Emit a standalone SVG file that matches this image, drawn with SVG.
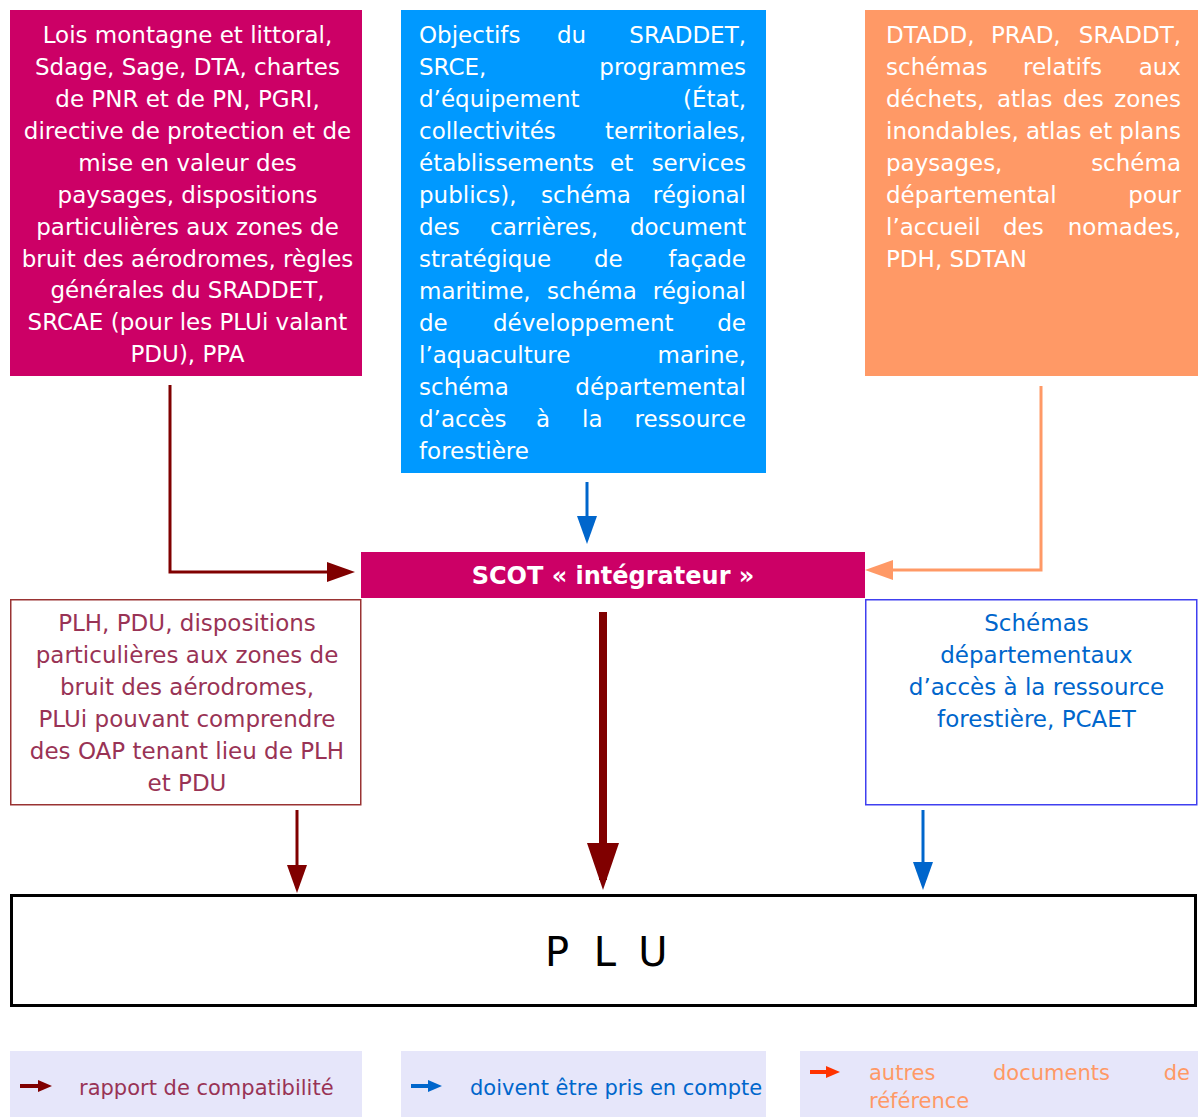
<svg xmlns="http://www.w3.org/2000/svg" width="1198" height="1117" viewBox="0 0 1198 1117">
<style>
text{font-family:"DejaVu Sans","Verdana",sans-serif;font-size:23px}
.w{fill:#ffffff}
.c{text-anchor:middle}
.e{text-anchor:end}
.mar{fill:#993355}
.blu{fill:#0066CC}
.leg{font-size:21px}
.big{font-size:40px}
.scot{font-size:24px;font-weight:bold}
.conn{fill:none;stroke-linejoin:miter}
</style>
<defs>
<marker id="mRed" markerUnits="userSpaceOnUse" markerWidth="28" markerHeight="20" viewBox="0 0 28 20" refX="18" refY="10" orient="auto"><path d="M0,0 L28,10 L0,20 z" fill="#800000"/></marker>
<marker id="mBlue" markerUnits="userSpaceOnUse" markerWidth="28" markerHeight="20" viewBox="0 0 28 20" refX="18" refY="10" orient="auto"><path d="M0,0 L28,10 L0,20 z" fill="#0066CC"/></marker>
<marker id="mOrange" markerUnits="userSpaceOnUse" markerWidth="28" markerHeight="20" viewBox="0 0 28 20" refX="18" refY="10" orient="auto"><path d="M0,0 L28,10 L0,20 z" fill="#FF9966"/></marker>
<marker id="mBig" markerUnits="userSpaceOnUse" markerWidth="47" markerHeight="32" viewBox="0 0 47 32" refX="37" refY="16" orient="auto"><path d="M0,0 L47,16 L0,32 z" fill="#800000"/></marker>
<marker id="lRed" markerUnits="userSpaceOnUse" markerWidth="14" markerHeight="12" viewBox="0 0 14 12" refX="8" refY="6" orient="auto"><path d="M0,0 L14,6 L0,12 z" fill="#800000"/></marker>
<marker id="lBlue" markerUnits="userSpaceOnUse" markerWidth="14" markerHeight="12" viewBox="0 0 14 12" refX="8" refY="6" orient="auto"><path d="M0,0 L14,6 L0,12 z" fill="#0066CC"/></marker>
<marker id="lOrange" markerUnits="userSpaceOnUse" markerWidth="14" markerHeight="12" viewBox="0 0 14 12" refX="8" refY="6" orient="auto"><path d="M0,0 L14,6 L0,12 z" fill="#FF3300"/></marker>
</defs>
<rect width="1198" height="1117" fill="#ffffff"/>

<g id="node-lois">
<rect x="10" y="10" width="352" height="366" fill="#CC0066"/>
<g class="w c">
<text x="187.5" y="43">Lois montagne et littoral,</text>
<text x="187.5" y="75">Sdage, Sage, DTA, chartes</text>
<text x="187.5" y="107">de PNR et de PN, PGRI,</text>
<text x="187.5" y="139">directive de protection et de</text>
<text x="187.5" y="171">mise en valeur des</text>
<text x="187.5" y="203">paysages, dispositions</text>
<text x="187.5" y="235">particulières aux zones de</text>
<text x="187.5" y="267">bruit des aérodromes, règles</text>
<text x="187.5" y="298">générales du SRADDET,</text>
<text x="187.5" y="330">SRCAE (pour les PLUi valant</text>
<text x="187.5" y="362">PDU), PPA</text>
</g>
</g>

<g id="node-objectifs">
<rect x="401" y="10" width="365" height="463" fill="#0099FF"/>
<g class="w">
<text x="419" y="43">Objectifs</text><text x="557" y="43">du</text><text class="e" x="746" y="43">SRADDET,</text>
<text x="419" y="75">SRCE,</text><text class="e" x="746" y="75">programmes</text>
<text x="419" y="107">d’équipement</text><text class="e" x="746" y="107">(État,</text>
<text x="419" y="139">collectivités</text><text class="e" x="746" y="139">territoriales,</text>
<text x="419" y="171">établissements</text><text x="610" y="171">et</text><text class="e" x="746" y="171">services</text>
<text x="419" y="203">publics),</text><text x="541" y="203">schéma</text><text class="e" x="746" y="203">régional</text>
<text x="419" y="235">des</text><text x="490" y="235">carrières,</text><text class="e" x="746" y="235">document</text>
<text x="419" y="267">stratégique</text><text x="594" y="267">de</text><text class="e" x="746" y="267">façade</text>
<text x="419" y="299">maritime,</text><text x="547" y="299">schéma</text><text class="e" x="746" y="299">régional</text>
<text x="419" y="331">de</text><text x="493" y="331">développement</text><text class="e" x="746" y="331">de</text>
<text x="419" y="363">l’aquaculture</text><text class="e" x="746" y="363">marine,</text>
<text x="419" y="395">schéma</text><text class="e" x="746" y="395">départemental</text>
<text x="419" y="427">d’accès</text><text x="536" y="427">à</text><text x="582" y="427">la</text><text class="e" x="746" y="427">ressource</text>
<text x="419" y="459">forestière</text>
</g>
</g>

<g id="node-dtadd">
<rect x="865" y="10" width="333" height="366" fill="#FF9966"/>
<g class="w">
<text x="886" y="43">DTADD,</text><text x="991" y="43">PRAD,</text><text class="e" x="1181" y="43">SRADDT,</text>
<text x="886" y="75">schémas</text><text x="1023" y="75">relatifs</text><text class="e" x="1181" y="75">aux</text>
<text x="886" y="107">déchets,</text><text x="997" y="107">atlas</text><text x="1063" y="107">des</text><text class="e" x="1181" y="107">zones</text>
<text x="886" y="139">inondables,</text><text x="1026" y="139">atlas</text><text x="1089" y="139">et</text><text class="e" x="1181" y="139">plans</text>
<text x="886" y="171">paysages,</text><text class="e" x="1181" y="171">schéma</text>
<text x="886" y="203">départemental</text><text class="e" x="1181" y="203">pour</text>
<text x="886" y="235">l’accueil</text><text x="1003" y="235">des</text><text class="e" x="1181" y="235">nomades,</text>
<text x="886" y="267">PDH, SDTAN</text>
</g>
</g>

<g id="node-scot">
<rect x="361" y="552" width="504" height="46" fill="#CC0066"/>
<text class="w c scot" x="613" y="584">SCOT « intégrateur »</text>
</g>

<g id="node-plh">
<rect x="10.75" y="599.75" width="350" height="205" fill="#ffffff" stroke="#993333" stroke-width="1.5"/>
<g class="mar c">
<text x="187" y="631">PLH, PDU, dispositions</text>
<text x="187" y="663">particulières aux zones de</text>
<text x="187" y="695">bruit des aérodromes,</text>
<text x="187" y="727">PLUi pouvant comprendre</text>
<text x="187" y="759">des OAP tenant lieu de PLH</text>
<text x="187" y="791">et PDU</text>
</g>
</g>

<g id="node-schemas">
<rect x="865.75" y="599.75" width="331" height="205" fill="#ffffff" stroke="#4040F0" stroke-width="1.5"/>
<g class="blu c">
<text x="1036.5" y="631">Schémas</text>
<text x="1036.5" y="663">départementaux</text>
<text x="1036.5" y="695">d’accès à la ressource</text>
<text x="1036.5" y="727">forestière, PCAET</text>
</g>
</g>

<g id="node-plu">
<rect x="11.5" y="895.5" width="1184" height="110" fill="#ffffff" stroke="#000000" stroke-width="3"/>
<g class="c" fill="#000000">
<text class="big" x="557" y="966">P</text>
<text class="big" x="605" y="966">L</text>
<text class="big" x="653" y="966">U</text>
</g>
</g>

<g id="connectors" class="conn">
<path d="M170,385 V572 H345" stroke="#800000" stroke-width="3" marker-end="url(#mRed)"/>
<path d="M587,482 V534" stroke="#0066CC" stroke-width="3" marker-end="url(#mBlue)"/>
<path d="M1041,386 V570 H875" stroke="#FF9966" stroke-width="3" marker-end="url(#mOrange)"/>
<path d="M603,612 V880" stroke="#800000" stroke-width="8" marker-end="url(#mBig)"/>
<path d="M297,810 V883" stroke="#800000" stroke-width="3" marker-end="url(#mRed)"/>
<path d="M923,810 V880" stroke="#0066CC" stroke-width="3" marker-end="url(#mBlue)"/>
</g>

<g id="legend-compat">
<rect x="10" y="1051" width="352" height="66" fill="#E6E6FA"/>
<path d="M20,1086 H46" stroke="#800000" stroke-width="4" fill="none" marker-end="url(#lRed)"/>
<text class="leg mar" x="79" y="1095">rapport de compatibilité</text>
</g>
<g id="legend-compte">
<rect x="401" y="1051" width="365" height="66" fill="#E6E6FA"/>
<path d="M411,1086 H436" stroke="#0066CC" stroke-width="4" fill="none" marker-end="url(#lBlue)"/>
<text class="leg blu" x="470" y="1095">doivent être pris en compte</text>
</g>
<g id="legend-autres">
<rect x="800" y="1051" width="398" height="66" fill="#E6E6FA"/>
<path d="M810,1072 H834" stroke="#FF3300" stroke-width="4" fill="none" marker-end="url(#lOrange)"/>
<g fill="#FF9966">
<text class="leg" x="869" y="1080">autres</text><text class="leg" x="993" y="1080">documents</text><text class="leg e" x="1190" y="1080">de</text>
<text class="leg" x="869" y="1108">référence</text>
</g>
</g>
</svg>
